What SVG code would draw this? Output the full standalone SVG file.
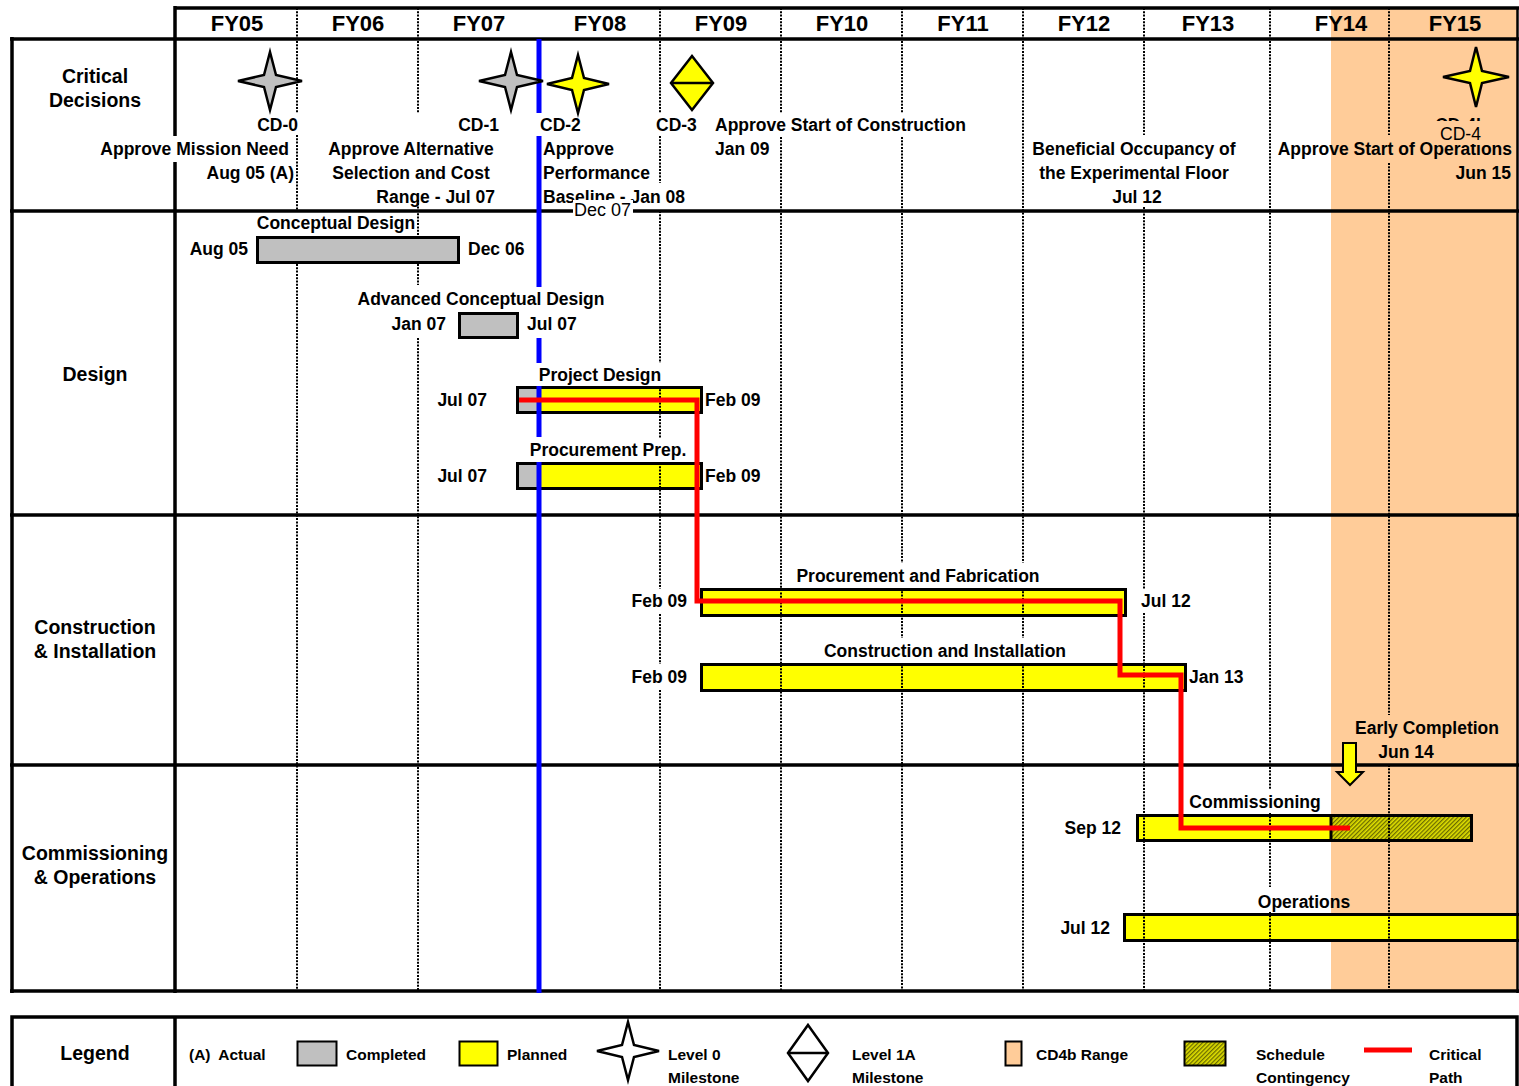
<svg xmlns="http://www.w3.org/2000/svg" width="1519" height="1086" viewBox="0 0 1519 1086">
<defs>
<style>
text{font-family:"Liberation Sans",Arial,sans-serif;font-weight:bold;font-size:17.5px;fill:#000}
.h{font-size:22px}
.rl{font-size:19.5px}
.lg{font-size:15.5px}
.reg{font-weight:normal}
.m{text-anchor:middle}
.e{text-anchor:end}
.grid{stroke:#000;stroke-width:2;stroke-dasharray:2 1.3;fill:none}
.row{stroke:#000;stroke-width:3.5;fill:none}
.bo{fill:none;stroke:#000;stroke-width:3}
.gray{fill:#C0C0C0}
.yel{fill:#FFFF00}
.star{stroke:#000;stroke-width:2.5;stroke-linejoin:miter}
.crit{fill:none;stroke:#FF0000;stroke-width:5;stroke-linejoin:miter}
.blue{stroke:#0000FF;stroke-width:5;fill:none}
</style>
<pattern id="hatch" patternUnits="userSpaceOnUse" width="3" height="3" patternTransform="rotate(45)">
<rect width="3" height="3" fill="#E0E000"/>
<rect width="1.3" height="3" fill="#6B6B00"/>
</pattern>
</defs>
<rect width="1519" height="1086" fill="#fff"/>
<rect x="1331" y="8" width="186" height="983" fill="#FFCC99"/>

<!-- header -->
<g id="header">
<text class="h m" x="237" y="31">FY05</text>
<text class="h m" x="358" y="31">FY06</text>
<text class="h m" x="479" y="31">FY07</text>
<text class="h m" x="600" y="31">FY08</text>
<text class="h m" x="721" y="31">FY09</text>
<text class="h m" x="842" y="31">FY10</text>
<text class="h m" x="963" y="31">FY11</text>
<text class="h m" x="1084" y="31">FY12</text>
<text class="h m" x="1208" y="31">FY13</text>
<text class="h m" x="1341" y="31">FY14</text>
<text class="h m" x="1455" y="31">FY15</text>
</g>

<g id="row-labels">
<text class="rl m" x="95" y="83">Critical</text>
<text class="rl m" x="95" y="107">Decisions</text>
<text class="rl m" x="95" y="381">Design</text>
<text class="rl m" x="95" y="634">Construction</text>
<text class="rl m" x="95" y="658">&amp; Installation</text>
<text class="rl m" x="95" y="860">Commissioning</text>
<text class="rl m" x="95" y="884">&amp; Operations</text>
</g>

<!-- bars -->
<g id="bar-conceptual-design">
<rect x="257.5" y="237.5" width="201" height="25" class="gray"/>
<rect x="257.5" y="237.5" width="201" height="25" class="bo"/>
<text class="m" x="336" y="229">Conceptual Design</text>
<text class="e" x="248" y="255">Aug 05</text>
<text x="468" y="255">Dec 06</text>
</g>
<g id="bar-advanced-conceptual-design">
<rect x="459.5" y="313.5" width="58" height="24" class="gray"/>
<rect x="459.5" y="313.5" width="58" height="24" class="bo"/>
<text class="m" x="481" y="305">Advanced Conceptual Design</text>
<text class="e" x="446" y="330">Jan 07</text>
<text x="527" y="330">Jul 07</text>
</g>
<g id="bar-project-design">
<rect x="517.5" y="387.5" width="22" height="25" class="gray"/>
<rect x="539.5" y="387.5" width="162" height="25" class="yel"/>
<rect x="517.5" y="387.5" width="184" height="25" class="bo"/>
<text class="m" x="600" y="381">Project Design</text>
<text class="e" x="487" y="406">Jul 07</text>
<text x="705" y="406">Feb 09</text>
</g>
<g id="bar-procurement-prep">
<rect x="517.5" y="463.5" width="22" height="25" class="gray"/>
<rect x="539.5" y="463.5" width="162" height="25" class="yel"/>
<rect x="517.5" y="463.5" width="184" height="25" class="bo"/>
<text class="m" x="608" y="456">Procurement Prep.</text>
<text class="e" x="487" y="482">Jul 07</text>
<text x="705" y="482">Feb 09</text>
</g>
<g id="bar-procurement-fabrication">
<rect x="701.5" y="589.5" width="424" height="26" class="yel"/>
<rect x="701.5" y="589.5" width="424" height="26" class="bo"/>
<text class="m" x="918" y="582">Procurement and Fabrication</text>
<text class="e" x="687" y="607">Feb 09</text>
<text x="1141" y="607">Jul 12</text>
</g>
<g id="bar-construction-installation">
<rect x="701.5" y="664.5" width="484" height="26" class="yel"/>
<rect x="701.5" y="664.5" width="484" height="26" class="bo"/>
<text class="m" x="945" y="657">Construction and Installation</text>
<text class="e" x="687" y="683">Feb 09</text>
<text x="1189" y="683">Jan 13</text>
</g>
<g id="bar-commissioning">
<rect x="1137.5" y="815.5" width="194" height="25" class="yel"/>
<rect x="1331" y="815.5" width="140.5" height="25" fill="url(#hatch)"/>
<rect x="1137.5" y="815.5" width="334" height="25" class="bo"/>
<line x1="1331" y1="815" x2="1331" y2="841" stroke="#000" stroke-width="3"/>
<text class="m" x="1255" y="808">Commissioning</text>
<text class="e" x="1121" y="834">Sep 12</text>
</g>
<g id="bar-operations">
<rect x="1124.5" y="914.5" width="400" height="26" class="yel"/>
<rect x="1124.5" y="914.5" width="400" height="26" class="bo"/>
<text class="m" x="1304" y="908">Operations</text>
<text class="e" x="1110" y="934">Jul 12</text>
</g>

<!-- grid lines -->
<g id="gridlines">
<path class="grid" d="M297 8V113M297 135V211M297 264V991"/>
<path class="grid" d="M418 8V113M418 200V236M418 264V285M418 338V991"/>
<path class="grid" d="M660 8V113M660 136V183M660 211V363M660 386V438M660 463V589M660 614V664M660 690V991"/>
<path class="grid" d="M781 8V113M781 137V991"/>
<path class="grid" d="M902 8V113M902 137V563M902 588V638M902 663V991"/>
<path class="grid" d="M1023 8V563M1023 588V638M1023 663V991"/>
<path class="grid" d="M1144 8V135M1144 207V589M1144 613V991"/>
<path class="grid" d="M1270 8V790M1270 813V887M1270 912V991"/>
<path class="grid" d="M1389 8V135M1389 163V715M1389 765V991"/>
</g>

<!-- frame -->
<g id="frame">
<line class="row" x1="175" y1="8" x2="1519" y2="8"/>
<line class="row" x1="10" y1="39" x2="1519" y2="39"/>
<line class="row" x1="10" y1="211" x2="1519" y2="211"/>
<line class="row" x1="10" y1="515" x2="1519" y2="515"/>
<line class="row" x1="10" y1="765" x2="1519" y2="765"/>
<line class="row" x1="10" y1="991" x2="1519" y2="991"/>
<line class="row" x1="12" y1="37" x2="12" y2="993"/>
<path class="row" d="M175 6V136M175 162V993"/>
<line x1="1517.5" y1="8" x2="1517.5" y2="993" stroke="#000" stroke-width="2.5"/>
</g>

<!-- status date line -->
<g id="status-line">
<path class="blue" d="M539 39V113M539 136V287M539 338V363M539 386V437M539 462V993"/>
</g>

<!-- critical path -->
<g id="connectors">
<path class="crit" d="M519 400H697V601H1120V675H1181V828H1350"/>
</g>

<!-- milestones -->
<g id="cd0">
<path class="star" fill="#C0C0C0" d="M270 52L276 75L302 81L276 87L270 110L264 87L238 81L264 75Z"/>
<text class="e" x="298" y="131">CD-0</text>
<text class="e" x="289" y="155">Approve Mission Need</text>
<text class="e" x="294" y="179">Aug 05 (A)</text>
</g>
<g id="cd1">
<path class="star" fill="#C0C0C0" d="M511 52L517 75L543 81L517 87L511 110L505 87L479 81L505 75Z"/>
<text class="e" x="499" y="131">CD-1</text>
<text class="m" x="411" y="155">Approve Alternative</text>
<text class="m" x="411" y="179">Selection and Cost</text>
<text class="e" x="495" y="203">Range - Jul 07</text>
</g>
<g id="cd2">
<path class="star" fill="#FFFF00" d="M578 55L584 78L609 84L584 90L578 113L572 90L547 84L572 78Z"/>
<text x="540" y="131">CD-2</text>
<text x="543" y="155">Approve</text>
<text x="543" y="179">Performance</text>
<text x="543" y="203">Baseline - Jan 08</text>
</g>
<g id="status-date-label">
<rect x="573" y="200" width="60" height="22" fill="#fff"/>
<text class="reg" x="574" y="216" font-size="20" textLength="57" lengthAdjust="spacingAndGlyphs">Dec 07</text>
</g>
<g id="cd3">
<path class="star" fill="#FFFF00" d="M692 56L713 83L692 110L671 83Z"/>
<line x1="671" y1="83" x2="713" y2="83" stroke="#000" stroke-width="2.5"/>
<text x="656" y="131">CD-3</text>
<text x="715" y="131">Approve Start of Construction</text>
<text x="715" y="155">Jan 09</text>
</g>
<g id="beneficial-occupancy">
<text class="m" x="1134" y="155">Beneficial Occupancy of</text>
<text class="m" x="1134" y="179">the Experimental Floor</text>
<text class="m" x="1137" y="203">Jul 12</text>
</g>
<g id="cd4">
<path class="star" fill="#FFFF00" d="M1476 47L1482 71L1509 77L1482 83L1476 107L1470 83L1443 77L1470 71Z"/>
<text class="m" x="1461" y="131">CD-4b</text>
<text class="e" x="1512" y="155">Approve Start of Operations</text>
<text class="e" x="1511" y="179">Jun 15</text>
<rect x="1432" y="121" width="56" height="23" fill="#FFCC99"/>
<text class="reg" x="1440" y="140" font-size="19.5" textLength="41" lengthAdjust="spacingAndGlyphs">CD-4</text>
</g>
<g id="early-completion">
<path d="M1343 743H1356V772H1363L1350 785L1337 772H1343Z" fill="#FFFF00" stroke="#000" stroke-width="2"/>
<text class="m" x="1427" y="734">Early Completion</text>
<text class="m" x="1406" y="758">Jun 14</text>
</g>

<!-- legend -->
<g id="legend">
<path class="row" d="M12 1086V1017H1517V1086M175 1017V1086"/>
<text class="rl m" x="95" y="1060">Legend</text>
<text class="lg" x="189" y="1060">(A) <tspan dx="4">Actual</tspan></text>
<rect x="297.5" y="1041.5" width="39" height="24" class="gray" stroke="#000" stroke-width="2"/>
<text class="lg" x="346" y="1060">Completed</text>
<rect x="459.5" y="1041.5" width="38" height="24" class="yel" stroke="#000" stroke-width="2"/>
<text class="lg" x="507" y="1060">Planned</text>
<path class="star" fill="#fff" d="M628 1022L634 1045L659 1051L634 1057L628 1080L622 1057L597 1051L622 1045Z"/>
<text class="lg" x="668" y="1060">Level 0</text>
<text class="lg" x="668" y="1083">Milestone</text>
<path class="star" fill="#fff" d="M808 1025L828 1053L808 1081L788 1053Z"/>
<line x1="788" y1="1053" x2="828" y2="1053" stroke="#000" stroke-width="2.5"/>
<text class="lg" x="852" y="1060">Level 1A</text>
<text class="lg" x="852" y="1083">Milestone</text>
<rect x="1005.5" y="1041.5" width="16" height="24" fill="#FFCC99" stroke="#000" stroke-width="2"/>
<text class="lg" x="1036" y="1060">CD4b Range</text>
<rect x="1184.5" y="1041.5" width="41" height="24" fill="url(#hatch)" stroke="#000" stroke-width="2"/>
<text class="lg" x="1256" y="1060">Schedule</text>
<text class="lg" x="1256" y="1083">Contingency</text>
<line x1="1364" y1="1050" x2="1412" y2="1050" stroke="#FF0000" stroke-width="5"/>
<text class="lg" x="1429" y="1060">Critical</text>
<text class="lg" x="1429" y="1083">Path</text>
</g>
</svg>
